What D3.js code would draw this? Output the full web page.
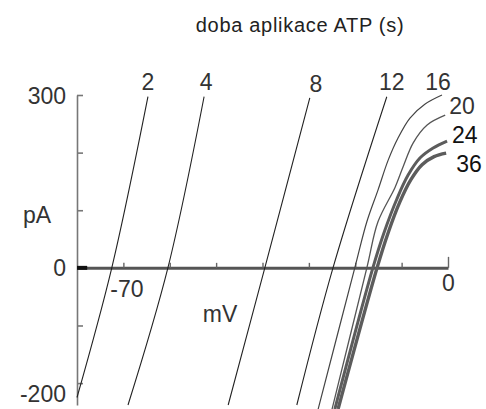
<!DOCTYPE html>
<html><head><meta charset="utf-8">
<script src="https://cdn.jsdelivr.net/npm/d3@7"></script>
<style>
html,body{margin:0;padding:0;background:#fff;}
svg{display:block;font-family:"Liberation Sans",Arial,sans-serif;}
</style></head>
<body><svg id="c" width="486" height="409"></svg>
<script>
// ATP application time (s) for each I-V curve
const seriesLabels = ["2","4","8","12","16","20","24","36"];
// membrane potential (mV) and current (pA)
const mV2  = [-80, -72.5, -64.7];
const pA2  = [-225, 0, 297];
const mV4  = [-69, -60.4, -52.6];
const pA4  = [-238, 0, 297];
const mV8  = [-47.4, -39.5, -29.8];
const pA8  = [-238, 0, 295];
const mV12 = [-32.6, -24.8, -13.2];
const pA12 = [-238, 0, 297];
const mV16 = [-28, -20.1, -17.5, -15.1, -12.9, -10.8, -8.2, -5, -1.3];
const pA16 = [-245, 0, 80, 135, 187, 225, 260, 284, 300];
const mV20 = [-25, -17.5, -15.1, -11.4, -9.7, -7.5, -4.5, -0.6];
const pA20 = [-245, 0, 80, 140, 175, 217, 248, 265];
const mV24 = [-24.4, -16.2, -13.8, -11, -8.6, -6, -3.2, -0.2];
const pA24 = [-245, 0, 61, 120, 161, 191, 208, 220];
const mV36 = [-23.7, -15.3, -12.9, -10.4, -8, -5.6, -3, -0.4];
const pA36 = [-245, 0, 61, 114, 153, 179, 193, 199];
// axis ticks
const xTicks = [-70, -60, -50, -40, -30, -20, -10, 0];
const xTickLabels = ["-70", "", "", "", "", "", "", "0"];
const yTicks = [300, 200, 100, 0, -100, -200];
const yTickLabels = ["300", "", "", "0", "", "-200"];
const title = "doba aplikace ATP (s)";

const mvs = [mV2, mV4, mV8, mV12, mV16, mV20, mV24, mV36];
const pas = [pA2, pA4, pA8, pA12, pA16, pA20, pA24, pA36];

const svg = d3.select("#c");
const x = d3.scaleLinear().domain([-80, 0]).range([77, 448]);
const y = d3.scaleLinear().domain([-238, 300]).range([405, 95]);

const txtColor = "#333";

// title
svg.append("text").attr("x", 300).attr("y", 32).attr("text-anchor", "middle")
  .attr("font-size", 20).attr("letter-spacing", 0.7).attr("fill", "#222").text(title);

// y axis
const yAxis = d3.axisLeft(y).tickValues(yTicks)
  .tickFormat((d, i) => yTickLabels[i]).tickSizeInner(-6).tickSizeOuter(0).tickPadding(11);
const gy = svg.append("g").attr("transform", `translate(${x(-80)},0)`).call(yAxis);
gy.select(".domain").attr("stroke", "#777").attr("stroke-width", 1.6);
gy.selectAll(".tick line").attr("stroke", "#777").attr("stroke-width", 1.6);
gy.selectAll(".tick text").attr("font-size", 23).attr("fill", txtColor)
  .attr("font-family", "Liberation Sans, Arial, sans-serif")
  .attr("dy", d => d === -200 ? "0.82em" : "0.35em");

// x axis
const xAxis = d3.axisBottom(x).tickValues(xTicks)
  .tickFormat((d, i) => xTickLabels[i]).tickSizeOuter(0).tickSizeInner(-5).tickPadding(6);
const gx = svg.append("g").attr("transform", `translate(0,${y(0)})`).call(xAxis);
gx.select(".domain").attr("stroke", "#555").attr("stroke-width", 3);
gx.selectAll(".tick line").attr("stroke", "#666").attr("stroke-width", 1.4)
  .attr("y2", d => d === 0 ? -11 : -5);
gx.selectAll(".tick text").attr("font-size", 23).attr("fill", txtColor)
  .attr("font-family", "Liberation Sans, Arial, sans-serif")
  .attr("dy", d => d === -70 ? "1.0em" : "0.75em")
  .attr("dx", d => d === -70 ? 3 : 0);
// dark stub at the start of the x axis
svg.append("line").attr("x1", x(-80)).attr("x2", x(-77.8)).attr("y1", y(0)).attr("y2", y(0))
  .attr("stroke", "#111").attr("stroke-width", 4);

// axis units
svg.append("text").attr("x", 37).attr("y", 223).attr("text-anchor", "middle")
  .attr("font-size", 23).attr("fill", txtColor).text("pA");
svg.append("text").attr("x", 220).attr("y", 322).attr("text-anchor", "middle")
  .attr("font-size", 23).attr("fill", txtColor).text("mV");

// curves
const line = d3.line().x(d => x(d[0])).y(d => y(d[1])).curve(d3.curveCatmullRom.alpha(0.5));
const styles = [
  {c: "#222", w: 1.1}, {c: "#222", w: 1.1}, {c: "#222", w: 1.1}, {c: "#222", w: 1.1},
  {c: "#444", w: 1.2}, {c: "#555", w: 1.3}, {c: "#5c5c5c", w: 3}, {c: "#5c5c5c", w: 3.4}
];
mvs.forEach((mv, i) => {
  const pts = mv.map((v, j) => [v, pas[i][j]]);
  svg.append("path").datum(pts).attr("d", line).attr("fill", "none")
    .attr("stroke", styles[i].c).attr("stroke-width", styles[i].w);
});

// curve labels (positioned at the end of each curve)
const labelPos = [
  {dx: 0, dy: -7, a: "middle"}, {dx: 2, dy: -7, a: "middle"}, {dx: 6, dy: -6, a: "middle"},
  {dx: 5, dy: -7, a: "middle"}, {dx: -4, dy: -5, a: "middle"}, {dx: 4, dy: -1, a: "start"},
  {dx: 5, dy: 2, a: "start"}, {dx: 10, dy: 19, a: "start"}
];
seriesLabels.forEach((lab, i) => {
  const mv = mvs[i], pa = pas[i];
  const n = mv.length - 1;
  svg.append("text").attr("x", x(mv[n]) + labelPos[i].dx).attr("y", y(pa[n]) + labelPos[i].dy)
    .attr("text-anchor", labelPos[i].a).attr("font-size", 23)
    .attr("fill", i >= 6 ? "#111" : "#333").text(lab);
});
</script></body></html>
